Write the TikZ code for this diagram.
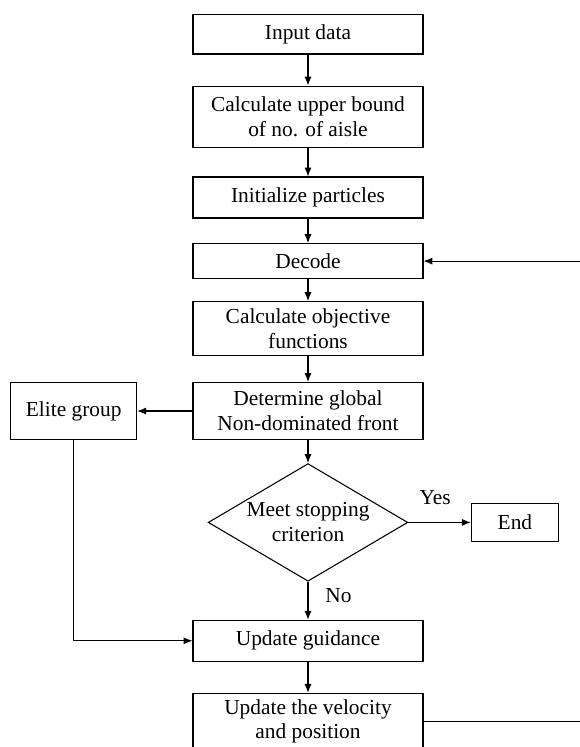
\documentclass[tikz,border=0pt]{standalone}
\usepackage{fontspec}
\setmainfont{Liberation Serif}
\usetikzlibrary{positioning}
\usetikzlibrary{arrows.meta}
\usetikzlibrary{shapes.geometric}

\begin{document}
\begin{tikzpicture}
    [every node/.style={draw,line width=0.6pt,minimum width=129pt,inner sep=0pt,align=center,
                        font=\fontsize{12pt}{14pt}\selectfont},
     line width=0.6pt]

    \tikzstyle{label} = [draw=none,minimum width=0pt,inner sep=2pt]
    \tikzstyle{flow}  = [-{Latex[length=5pt,width=4pt]}]
    \tikzstyle{test}  = [diamond,aspect=1.7,minimum width=112pt,minimum height=66pt]

    \useasboundingbox (-172.8pt,19.1pt) rectangle (152.6pt,-400pt);

    \node [minimum height=22.4pt] (input) {Input data} ;
    \node [below=17.4pt of input,minimum height=34.2pt] (bound) {Calculate upper bound\\of no. of aisle} ;
    \node [below=16.2pt of bound,minimum height=23pt] (init) {Initialize particles} ;
    \node [below=13.8pt of init,minimum height=19.6pt] (dec) {Decode} ;
    \node [below=12.3pt of dec,minimum height=30.3pt] (obj) {Calculate objective\\functions} ;
    \node [below=14.5pt of obj,minimum height=32pt] (det) {Determine global\\Non-dominated front} ;
    \node [left=31pt of det,minimum width=70.7pt,minimum height=32pt] (elite) {Elite group} ;
    \node [below=12.9pt of det,test] (crit) {Meet stopping\\criterion} ;
    \node [right=35pt of crit,minimum width=49pt,minimum height=21.3pt] (end) {End} ;
    \node [below=21.3pt of crit,minimum height=23pt] (guid) {Update guidance} ;
    \node [below=17.4pt of guid,minimum height=31.4pt] (vel) {Update the velocity\\and position} ;

    \coordinate (back) at (156pt,0) ;

    \draw [flow] (input) -- (bound) ;
    \draw [flow] (bound) -- (init) ;
    \draw [flow] (init) -- (dec) ;
    \draw [flow] (dec) -- (obj) ;
    \draw [flow] (obj) -- (det) ;
    \draw [flow] (det) -- (elite) ;
    \draw [flow] (det) -- (crit) ;
    \draw [flow] (crit) -- node [label,above=7.5pt,pos=0.43] {Yes} (end) ;
    \draw [flow] (crit) -- node [label,right=7.5pt,pos=0.36] {No} (guid) ;
    \draw [flow] (elite) |- (guid) ;
    \draw [flow] (guid) -- (vel) ;

    \draw [flow] (vel.east) -- (vel.east -| back) -- (dec.east -| back) -- (dec.east) ;
  \end{tikzpicture}
\end{document}
